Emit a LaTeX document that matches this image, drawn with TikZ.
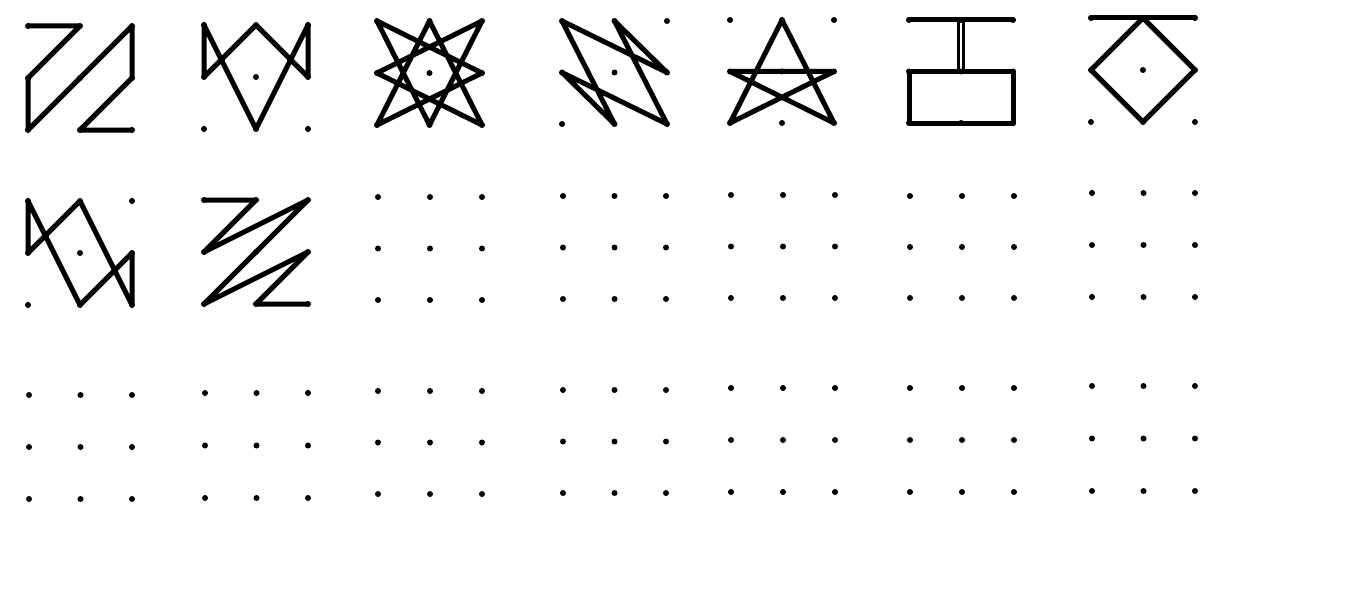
\documentclass[tikz,border=0pt]{standalone}
\begin{document}
\begin{tikzpicture}[x=1pt,y=-1pt,
  dot/.style={circle,fill=black,inner sep=0pt,minimum size=6pt},
  stroke/.style={line width=5pt,line cap=round,line join=round,black},
  thinstroke/.style={line width=3.3pt,line cap=round,black}]
\useasboundingbox (0,0) rectangle (1360,610);
\fill[white] (0,0) rectangle (1360,610);
\newcommand{\dotgrid}[5]{%
  \foreach \i in {0,1,2}{\foreach \j in {0,1,2}{%
    \node[dot] (#1-\i\j) at ({#2+\i*#4},{#3+\j*#5}) {};}}}
% row 1
\dotgrid{a1}{28}{26}{52}{52}
\dotgrid{a2}{204}{25}{52}{52}
\dotgrid{a3}{377}{21}{52.5}{52}
\dotgrid{a4}{562}{21}{52.5}{51.5}
\dotgrid{a5}{730}{20}{52}{51.5}
\dotgrid{a6}{909}{20}{52}{51.5}
\dotgrid{a7}{1091}{18}{52}{52}
% row 2
\dotgrid{b1}{28}{201}{52}{52}
\dotgrid{b2}{204}{200}{52}{52}
\dotgrid{b3}{378}{197}{52}{51.5}
\dotgrid{b4}{563}{196}{51.5}{51.5}
\dotgrid{b5}{731}{195}{52}{51.5}
\dotgrid{b6}{910}{196}{52}{51}
\dotgrid{b7}{1092}{193}{51.5}{52}
% row 3
\dotgrid{c1}{29}{395}{51.5}{52}
\dotgrid{c2}{205}{393}{51.5}{52.5}
\dotgrid{c3}{378}{391}{52}{51.5}
\dotgrid{c4}{563}{390}{51.5}{51.5}
\dotgrid{c5}{731}{388}{52}{52}
\dotgrid{c6}{910}{388}{52}{52}
\dotgrid{c7}{1092}{386}{51.5}{52.5}
% figure a1
\draw[stroke] (a1-00.center) -- (a1-10.center) -- (a1-01.center) -- (a1-02.center)
  -- (a1-20.center) -- (a1-21.center) -- (a1-12.center) -- (a1-22.center);
% figure a2
\draw[stroke] (a2-01.center) -- (a2-00.center) -- (a2-12.center) -- (a2-20.center)
  -- (a2-21.center) -- (a2-10.center) -- cycle;
% figure a3 : eight-point star
\draw[stroke] (a3-00.center) -- (a3-21.center) -- (a3-02.center) -- (a3-10.center)
  -- (a3-22.center) -- (a3-01.center) -- (a3-20.center) -- (a3-12.center) -- cycle;
% figure a4
\draw[stroke] (a4-00.center) -- (a4-21.center) -- (a4-10.center) -- (a4-22.center)
  -- (a4-01.center) -- (a4-12.center) -- cycle;
% figure a5 : pentagram
\draw[stroke] (a5-10.center) -- (a5-02.center) -- (a5-21.center) -- (a5-01.center)
  -- (a5-22.center) -- cycle;
% figure a6
\draw[stroke] (a6-00.center) -- (a6-20.center);
\draw[stroke] (a6-01.center) -- (a6-21.center) -- (a6-22.center) -- (a6-02.center) -- cycle;
\draw[thinstroke] ([xshift=-2.5pt]a6-10.center) -- ([xshift=-2.5pt]a6-11.center);
\draw[thinstroke] ([xshift=2.5pt]a6-10.center) -- ([xshift=2.5pt,yshift=3pt]a6-11.center);
% figure a7
\draw[stroke] (a7-00.center) -- (a7-20.center);
\draw[stroke] (a7-10.center) -- (a7-21.center) -- (a7-12.center) -- (a7-01.center) -- cycle;
% figure b1
\draw[stroke] (b1-01.center) -- (b1-00.center) -- (b1-12.center) -- (b1-21.center)
  -- (b1-22.center) -- (b1-10.center) -- cycle;
% figure b2
\draw[stroke] (b2-00.center) -- (b2-10.center) -- (b2-01.center) -- (b2-20.center)
  -- (b2-02.center) -- (b2-21.center) -- (b2-12.center) -- (b2-22.center);
\end{tikzpicture}
\end{document}
